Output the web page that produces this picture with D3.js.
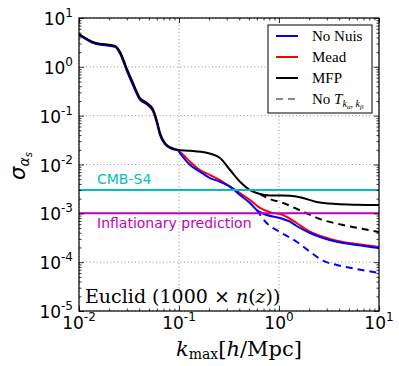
<!DOCTYPE html>
<html>
<head>
<meta charset="utf-8">
<script src="https://cdn.jsdelivr.net/npm/d3@7"></script>
<style>
  html, body { margin: 0; padding: 0; background: #fff; }
  svg { display: block; }
</style>
</head>
<body>
<svg id="chart" width="399" height="366"></svg>
<script>
// ---------------- data ----------------
const kCommon     = [0.01, 0.01445, 0.0229, 0.0257, 0.030, 0.0347, 0.0407, 0.0475, 0.055, 0.0598, 0.0646, 0.0724, 0.0845, 0.0977];
const blackCommon = [4.70, 3.12, 2.67, 2.04, 0.93, 0.467, 0.230, 0.182, 0.131, 0.0815, 0.0442, 0.0275, 0.0218, 0.0198];
const redCommon   = [4.60, 3.05, 2.62, 1.95, 0.88, 0.440, 0.222, 0.185, 0.135, 0.0780, 0.0420, 0.0265, 0.0213, 0.0196];
const blueCommon  = [4.55, 3.00, 2.58, 1.88, 0.84, 0.420, 0.212, 0.172, 0.122, 0.0730, 0.0400, 0.0260, 0.0210, 0.0195];

const kBlackTail  = [0.129, 0.189, 0.257, 0.324, 0.407, 0.513, 0.646, 0.813, 1.29, 1.74, 2.38, 3.78, 5.98, 10];
const blackTail   = [0.0192, 0.0174, 0.0136, 0.00771, 0.00444, 0.0030, 0.00249, 0.00232, 0.00230, 0.00206, 0.00171, 0.00155, 0.00150, 0.00148];

const kRedTail    = [0.102, 0.115, 0.129, 0.162, 0.204, 0.257, 0.324, 0.407, 0.513, 0.646, 0.813, 1.096, 1.50, 2.04, 2.75, 3.78, 5.98, 10];
const redTail     = [0.0183, 0.01445, 0.0114, 0.00771, 0.0061, 0.00481, 0.00351, 0.00261, 0.00187, 0.00129, 0.00106, 0.000924, 0.000634, 0.000421, 0.000332, 0.000275, 0.000235, 0.000204];

const kBlueTail   = [0.102, 0.129, 0.162, 0.204, 0.257, 0.324, 0.407, 0.513, 0.598, 0.753, 1.023, 1.29, 1.50, 2.04, 2.75, 3.78, 5.98, 10];
const blueTail    = [0.0172, 0.00977, 0.00711, 0.00528, 0.00444, 0.00351, 0.00237, 0.00163, 0.00117, 0.000924, 0.000802, 0.000673, 0.00055, 0.000395, 0.000313, 0.000262, 0.000225, 0.000195];

const kBlackDashed = [0.646, 0.813, 1.096, 1.74, 2.75, 4.37, 6.92, 10];
const blackDashed  = [0.00249, 0.00196, 0.00163, 0.00108, 0.00073, 0.000577, 0.000478, 0.000414];

const kBlueDashed  = [0.598, 0.753, 1.023, 1.50, 2.04, 2.75, 3.78, 5.98, 10];
const blueDashed   = [0.00117, 0.000634, 0.000414, 0.000262, 0.000164, 0.000107, 0.0000875, 0.0000724, 0.00006];

const cmbS4Level     = 0.003;
const inflationLevel = 0.001;

const xTickExps = [-2, -1, 0, 1];
const yTickExps = [-5, -4, -3, -2, -1, 0, 1];
const legendLabels = ["No Nuis", "Mead", "MFP", "No T"];

// ---------------- layout ----------------
const svg = d3.select("#chart");
const L = 79, R = 379, T = 18, B = 311;
const x = d3.scaleLog().domain([0.01, 10]).range([L, R]);
const y = d3.scaleLog().domain([1e-5, 10]).range([B, T]);

const zip = (ks, vs) => ks.map((k, i) => [k, vs[i]]);
const line = d3.line().x(d => x(d[0])).y(d => y(d[1])).curve(d3.curveMonotoneX);

svg.append("defs").append("clipPath").attr("id", "clip")
  .append("rect").attr("x", L).attr("y", T).attr("width", R - L).attr("height", B - T);

// grid
const grid = svg.append("g");
xTickExps.forEach(e => {
  grid.append("line").attr("x1", x(Math.pow(10, e))).attr("x2", x(Math.pow(10, e)))
    .attr("y1", T).attr("y2", B)
    .attr("stroke", "#777").attr("stroke-width", 0.8).attr("stroke-dasharray", "1,2.5");
});
yTickExps.forEach(e => {
  grid.append("line").attr("y1", y(Math.pow(10, e))).attr("y2", y(Math.pow(10, e)))
    .attr("x1", L).attr("x2", R)
    .attr("stroke", "#777").attr("stroke-width", 0.8).attr("stroke-dasharray", "1,2.5");
});

// curves
const plot = svg.append("g").attr("clip-path", "url(#clip)");
function drawCurve(data, color, dashed) {
  plot.append("path").datum(data).attr("d", line)
    .attr("fill", "none").attr("stroke", color).attr("stroke-width", 2)
    .attr("stroke-linejoin", "round")
    .attr("stroke-dasharray", dashed ? "7,5" : null);
}
drawCurve(zip(kCommon.concat(kRedTail), redCommon.concat(redTail)), "#ff0000", false);
drawCurve(zip(kCommon.concat(kBlueTail), blueCommon.concat(blueTail)), "#0000ff", false);
drawCurve(zip(kBlackDashed, blackDashed), "#000000", true);
drawCurve(zip(kBlueDashed, blueDashed), "#0000ff", true);
drawCurve(zip(kCommon.concat(kBlackTail), blackCommon.concat(blackTail)), "#000000", false);

// horizontal reference lines
plot.append("line").attr("x1", L).attr("x2", R).attr("y1", y(cmbS4Level)).attr("y2", y(cmbS4Level))
  .attr("stroke", "#00bfbf").attr("stroke-width", 2);
plot.append("line").attr("x1", L).attr("x2", R).attr("y1", y(inflationLevel)).attr("y2", y(inflationLevel))
  .attr("stroke", "#bf00bf").attr("stroke-width", 2);

svg.append("text").attr("x", 97).attr("y", y(cmbS4Level) - 6)
  .attr("font-family", "DejaVu Sans").attr("font-size", 14).attr("fill", "#00bfbf").text("CMB-S4");
svg.append("text").attr("x", 97).attr("y", y(inflationLevel) + 15)
  .attr("font-family", "DejaVu Sans").attr("font-size", 14).attr("fill", "#bf00bf").text("Inflationary prediction");

// ticks (inside, all four sides)
const majorX = xTickExps.map(e => Math.pow(10, e));
const majorY = yTickExps.map(e => Math.pow(10, e));
const minorX = [], minorY = [];
for (let e = -2; e < 1; e++) for (let m = 2; m <= 9; m++) minorX.push(m * Math.pow(10, e));
for (let e = -5; e < 1; e++) for (let m = 2; m <= 9; m++) minorY.push(m * Math.pow(10, e));

const axStyle = g => { g.select(".domain").remove(); g.selectAll("line").attr("stroke", "#000").attr("stroke-width", 0.8); g.selectAll("text").remove(); };
svg.append("g").attr("transform", `translate(0,${B})`).call(d3.axisBottom(x).tickValues(majorX).tickSize(-5)).call(axStyle);
svg.append("g").attr("transform", `translate(0,${B})`).call(d3.axisBottom(x).tickValues(minorX).tickSize(-2.5)).call(axStyle);
svg.append("g").attr("transform", `translate(0,${T})`).call(d3.axisTop(x).tickValues(majorX).tickSize(-5)).call(axStyle);
svg.append("g").attr("transform", `translate(0,${T})`).call(d3.axisTop(x).tickValues(minorX).tickSize(-2.5)).call(axStyle);
svg.append("g").attr("transform", `translate(${L},0)`).call(d3.axisLeft(y).tickValues(majorY).tickSize(-5)).call(axStyle);
svg.append("g").attr("transform", `translate(${L},0)`).call(d3.axisLeft(y).tickValues(minorY).tickSize(-2.5)).call(axStyle);
svg.append("g").attr("transform", `translate(${R},0)`).call(d3.axisRight(y).tickValues(majorY).tickSize(-5)).call(axStyle);
svg.append("g").attr("transform", `translate(${R},0)`).call(d3.axisRight(y).tickValues(minorY).tickSize(-2.5)).call(axStyle);

// frame
svg.append("rect").attr("x", L).attr("y", T).attr("width", R - L).attr("height", B - T)
  .attr("fill", "none").attr("stroke", "#000").attr("stroke-width", 1.2);

// tick labels
const tickFont = "DejaVu Sans";
xTickExps.forEach(e => {
  const t = svg.append("text").attr("x", x(Math.pow(10, e))).attr("y", 329)
    .attr("text-anchor", "middle").attr("font-family", tickFont).attr("font-size", 17).attr("fill", "#000");
  t.append("tspan").text("10");
  t.append("tspan").attr("dy", -8).attr("font-size", 12).text(e < 0 ? "-" + (-e) : String(e));
});
yTickExps.forEach(e => {
  const t = svg.append("text").attr("x", 73).attr("y", y(Math.pow(10, e)) + 7)
    .attr("text-anchor", "end").attr("font-family", tickFont).attr("font-size", 17).attr("fill", "#000");
  t.append("tspan").text("10");
  t.append("tspan").attr("dy", -8).attr("font-size", 12).text(e < 0 ? "-" + (-e) : String(e));
});

// axis labels
const serif = "Liberation Serif";
const wideSerif = "DejaVu Serif";
const xl = svg.append("text").attr("x", 239).attr("y", 356).attr("text-anchor", "middle")
  .attr("font-family", wideSerif).attr("font-size", 21).attr("fill", "#000");
xl.append("tspan").attr("font-style", "italic").text("k");
xl.append("tspan").attr("font-size", 14).attr("dy", 3).text("max");
xl.append("tspan").attr("dy", -3).text("[");
xl.append("tspan").attr("font-style", "italic").text("h");
xl.append("tspan").text("/Mpc]");

const yl = svg.append("text").attr("transform", "translate(25,166) rotate(-90)")
  .attr("text-anchor", "middle").attr("font-family", "DejaVu Sans").attr("font-size", 21).attr("fill", "#000");
yl.append("tspan").attr("font-style", "italic").text("σ");
yl.append("tspan").attr("font-style", "italic").attr("font-size", 14).attr("dy", 4).text("α");
yl.append("tspan").attr("font-style", "italic").attr("font-size", 10).attr("dy", 3).text("s");

// annotation
const eu = svg.append("text").attr("x", 85).attr("y", 303)
  .attr("font-family", wideSerif).attr("font-size", 19).attr("fill", "#000");
eu.append("tspan").text("Euclid (1000 × ");
eu.append("tspan").attr("font-style", "italic").text("n");
eu.append("tspan").text("(");
eu.append("tspan").attr("font-style", "italic").text("z");
eu.append("tspan").text("))");

// legend
const lg = svg.append("g");
lg.append("rect").attr("x", 268).attr("y", 25).attr("width", 104).attr("height", 88)
  .attr("fill", "#fff").attr("stroke", "#000").attr("stroke-width", 1);
const legColors = ["#0000ff", "#ff0000", "#000000", "#888888"];
legendLabels.forEach((lab, i) => {
  const yy = 36 + i * 21;
  lg.append("line").attr("x1", 276).attr("x2", 298).attr("y1", yy).attr("y2", yy)
    .attr("stroke", legColors[i]).attr("stroke-width", 2)
    .attr("stroke-dasharray", i === 3 ? "7,5" : null);
  const t = lg.append("text").attr("x", 312).attr("y", yy + 5)
    .attr("font-family", serif).attr("font-size", 15).attr("fill", "#000");
  if (i === 3) {
    t.append("tspan").text("No ");
    t.append("tspan").attr("font-style", "italic").text("T");
    t.append("tspan").attr("font-style", "italic").attr("font-size", 10).attr("dy", 3).text("k");
    t.append("tspan").attr("font-style", "italic").attr("font-size", 7).attr("dy", 2).text("α");
    t.append("tspan").attr("font-size", 10).attr("dy", -2).text(", ");
    t.append("tspan").attr("font-style", "italic").attr("font-size", 10).text("k");
    t.append("tspan").attr("font-style", "italic").attr("font-size", 7).attr("dy", 2).text("β");
  } else {
    t.text(lab);
  }
});
</script>
</body>
</html>
